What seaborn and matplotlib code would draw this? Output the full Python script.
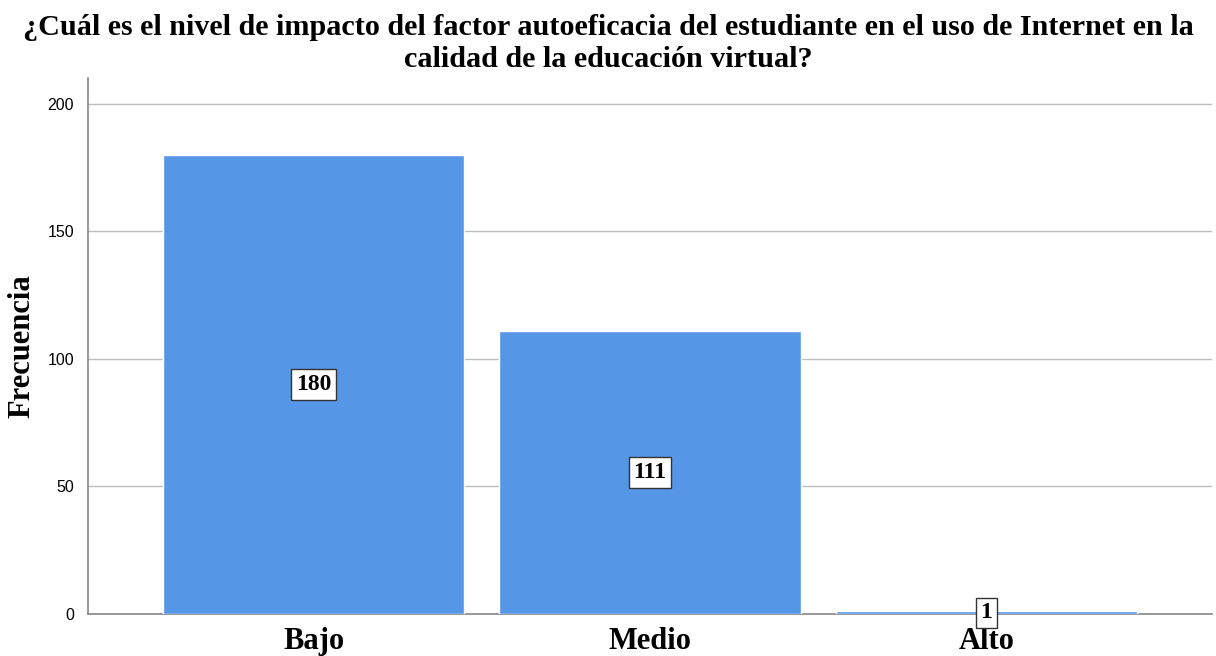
import matplotlib
matplotlib.use("Agg")
import matplotlib.pyplot as plt
import seaborn as sns
import pandas as pd

categorias = ["Bajo", "Medio", "Alto"]
frecuencias = [180, 111, 1]
yticks = [0, 50, 100, 150, 200]

titulo = ("¿Cuál es el nivel de impacto del factor autoeficacia del estudiante en el uso de Internet en la\n"
          "calidad de la educación virtual?")

sns.set_style("white")
plt.rcParams["font.family"] = ["Liberation Serif", "DejaVu Serif"]
plt.rcParams["text.color"] = "black"

df = pd.DataFrame({"nivel": categorias, "frecuencia": frecuencias})

fig = plt.figure(figsize=(12.16, 6.56), dpi=100)
ax = fig.add_axes([0.0724, 0.064, 0.9243, 0.817])

sns.barplot(data=df, x="nivel", y="frecuencia", color="#5596E6", saturation=1,
            width=0.896, ax=ax, zorder=3)

ax.set_xlim(-0.67, 2.67)
ax.set_ylim(0, 210)
ax.set_yticks(yticks)
ax.set_yticklabels([str(t) for t in yticks], fontsize=11.5, family="Liberation Sans")
ax.yaxis.grid(True, color="#bdbdbd", linewidth=1, zorder=0)
ax.set_axisbelow(True)
ax.tick_params(axis="both", length=0, colors="black")
ax.tick_params(axis="y", pad=10)
ax.tick_params(axis="x", pad=9)
for lbl in ax.get_xticklabels():
    lbl.set_fontsize(22)
    lbl.set_fontweight("bold")

for s in ["top", "right"]:
    ax.spines[s].set_visible(False)
for s in ["left", "bottom"]:
    ax.spines[s].set_color("#888888")
    ax.spines[s].set_linewidth(1.2)

ax.set_xlabel("")
ax.set_ylabel("Frecuencia", fontsize=22, fontweight="bold", labelpad=8, color="black")

for i, v in enumerate(frecuencias):
    ax.text(i, v / 2, str(v), ha="center", va="center", fontsize=17, fontweight="bold",
            bbox=dict(boxstyle="square,pad=0.2", facecolor="white", edgecolor="#333333", linewidth=1),
            zorder=5)

fig.suptitle(titulo, fontsize=21.7, fontweight="bold", y=0.978, linespacing=1.2)

fig.savefig("out.png", dpi=100)
